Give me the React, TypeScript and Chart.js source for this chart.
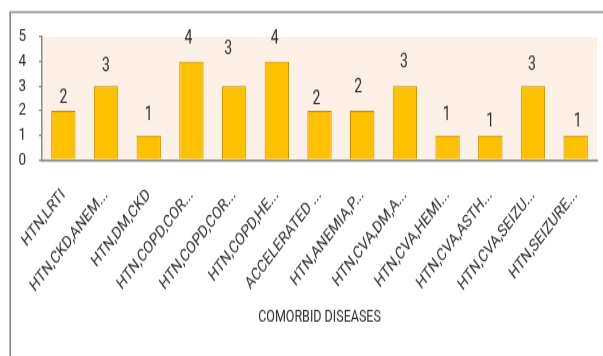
import React, { useEffect, useRef } from "react";
import { Chart, registerables } from "chart.js";

Chart.register(...registerables);

// Comorbidity combinations (axis labels as shown, already shortened)
const categories = [
  "HTN,LRTI",
  "HTN,CKD,ANEM...",
  "HTN,DM,CKD",
  "HTN,COPD,COR...",
  "HTN,COPD,COR...",
  "HTN,COPD,HE...",
  "ACCELERATED ...",
  "HTN,ANEMIA,P...",
  "HTN,CVA,DM,A...",
  "HTN,CVA,HEMI...",
  "HTN,CVA,ASTH...",
  "HTN,CVA,SEIZU...",
  "HTN,SEIZURE...",
];

// Number of patients per combination
const patientCounts = [2, 3, 1, 4, 3, 4, 2, 2, 3, 1, 1, 3, 1];

const yTickValues = [0, 1, 2, 3, 4, 5];

const axisTitle = "COMORBID DISEASES";

// Hand-placed value labels: lift above the bar top and sideways nudge (px, drawing units)
const labelLift = [10, 15, 15, 17.5, 28, 17.5, 9, 17.5, 18, 15, 10.5, 16, 10.5];
const labelNudge = [0, 0, 0, -3, -6, -2, -3, -4, -1, -1, 0, -1, 2];

// The chart is drawn on a shorter canvas and shown stretched to full height,
// which gives the tall, narrow lettering and steep label slant.
const VIEW_W = 603;
const VIEW_H = 356;
const DRAW_H = 270;

const FONT = "Roboto, 'Liberation Sans', sans-serif";
const TEXT = "#2e2e2e";
const AXIS = "#8a8a8a";

const frameAndBackground = {
  id: "frameAndBackground",
  beforeDraw(chart: any) {
    const { ctx, chartArea } = chart;
    ctx.save();
    ctx.fillStyle = "#ffffff";
    ctx.fillRect(0, 0, chart.width, chart.height);
    ctx.strokeStyle = "#858585";
    ctx.lineWidth = 1.6;
    ctx.beginPath();
    ctx.moveTo(10.2, chart.height + 2);
    ctx.lineTo(10.2, 9.1);
    ctx.stroke();
    ctx.lineWidth = 1.3;
    ctx.beginPath();
    ctx.moveTo(9.4, 9.1);
    ctx.lineTo(chart.width + 2, 9.1);
    ctx.stroke();
    ctx.fillStyle = "#fdf0e6";
    ctx.fillRect(chartArea.left, chartArea.top, chartArea.right - chartArea.left, chartArea.bottom - chartArea.top);
    ctx.restore();
  },
};

const valueLabels = {
  id: "valueLabels",
  afterDatasetsDraw(chart: any) {
    const { ctx } = chart;
    const meta = chart.getDatasetMeta(0);
    ctx.save();
    ctx.fillStyle = TEXT;
    ctx.font = `14px ${FONT}`;
    ctx.textAlign = "center";
    ctx.textBaseline = "middle";
    meta.data.forEach((bar: any, i: number) => {
      const v = chart.data.datasets[0].data[i];
      ctx.fillText(String(v), bar.x + labelNudge[i], bar.y - labelLift[i]);
    });
    ctx.restore();
  },
};

export default function App() {
  const canvasRef = useRef<HTMLCanvasElement | null>(null);

  useEffect(() => {
    document.body.style.margin = "0";
    const canvas = canvasRef.current;
    if (!canvas) return;
    const chart = new Chart(canvas, {
      type: "bar",
      data: {
        labels: categories,
        datasets: [
          {
            data: patientCounts,
            backgroundColor: "#ffc000",
            borderColor: "#c39100",
            borderWidth: 1,
            barPercentage: 0.57,
            categoryPercentage: 1,
          },
        ],
      },
      options: {
        animation: false,
        responsive: false,
        devicePixelRatio: 1,
        layout: { padding: { left: 0, right: 6, top: 28, bottom: 0 } },
        plugins: { legend: { display: false }, tooltip: { enabled: false } },
        scales: {
          x: {
            grid: { display: false, drawTicks: false },
            border: { display: true, color: AXIS, width: 1.5 },
            ticks: {
              autoSkip: false,
              maxRotation: 45,
              minRotation: 45,
              padding: 19,
              color: TEXT,
              font: { family: FONT, size: 13.2 },
            },
            title: {
              display: true,
              text: axisTitle,
              color: TEXT,
              font: { family: FONT, size: 12.5 },
              padding: { top: 0, bottom: 21.4 },
            },
            afterFit(scale: any) {
              scale.height = DRAW_H - 121.4;
              scale.paddingLeft = 0;
              scale.paddingRight = 0;
            },
          },
          y: {
            min: 0,
            max: 5,
            afterBuildTicks(scale: any) {
              scale.ticks = yTickValues.map((v) => ({ value: v }));
            },
            grid: { display: true, drawOnChartArea: false, drawTicks: true, tickLength: 3, color: AXIS, lineWidth: 1.2 },
            border: { display: true, color: AXIS, width: 1.5 },
            ticks: {
              autoSkip: false,
              padding: 13,
              color: TEXT,
              font: { family: FONT, size: 13.5 },
            },
            afterFit(scale: any) {
              scale.width = 42;
            },
          },
        },
      },
      plugins: [frameAndBackground, valueLabels],
    });
    return () => chart.destroy();
  }, []);

  return (
    <div style={{ position: "fixed", left: 0, top: 0, width: VIEW_W, height: VIEW_H, overflow: "hidden" }}>
      <canvas
        ref={canvasRef}
        width={VIEW_W}
        height={DRAW_H}
        style={{ width: VIEW_W, height: VIEW_H, display: "block" }}
      />
    </div>
  );
}
